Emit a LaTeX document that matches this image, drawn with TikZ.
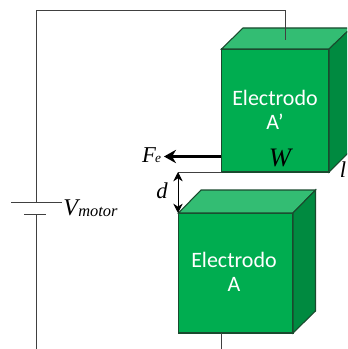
\documentclass[tikz,border=0pt]{standalone}
\usepackage{fontspec}
\usetikzlibrary{arrows.meta}
\setmainfont{Carlito}
\newfontfamily\mathlike{Liberation Serif}
\definecolor{gfront}{HTML}{00AD50}
\definecolor{gtop}{HTML}{33BD73}
\definecolor{gside}{HTML}{008A40}
\definecolor{gedge}{HTML}{1A4A2E}
\tikzset{
 wire/.style={draw=black!75,line width=0.7pt},
 front/.style={fill=gfront,draw=gedge,line width=0.8pt},
 topf/.style={fill=gtop,draw=gedge,line width=0.8pt},
 sidef/.style={fill=gside,draw=gedge,line width=0.8pt},
 lbl/.style={text=white,font=\fontsize{16.5}{18}\selectfont,align=center,inner sep=0pt},
 sym/.style={font=\mathlike\itshape\fontsize{17}{18}\selectfont,inner sep=0pt},
 sub/.style={font=\mathlike\itshape\fontsize{10}{12}\selectfont,inner sep=0pt}
}
\begin{document}
\begin{tikzpicture}[x=0.75pt,y=-0.75pt]
\useasboundingbox (0,0) rectangle (347,349);
\clip (0,0) rectangle (347,349);
\coordinate (tl) at (36,10);
\coordinate (tr) at (285,10);
\coordinate (tdot) at (285,40);
\coordinate (p1) at (36,202);
\coordinate (p2) at (36,214);
\coordinate (bl) at (36,349);
\coordinate (p1a) at (11,202);
\coordinate (p1b) at (62,202);
\coordinate (p2a) at (24,214);
\coordinate (p2b) at (46,214);
\coordinate (bw) at (221.6,349);
% upper electrode
\filldraw[front] (221.5,49) rectangle (329,172);
\filldraw[topf] (221.5,49) -- (243,28) -- (351,28) -- (329,49) -- cycle;
\filldraw[sidef] (329,49) -- (351,28) -- (351,150) -- (329,172) -- cycle;
\coordinate (ufb) at (221.5,172);
\node[lbl] (ea) at (275,110) {Electrodo\\A'};
\node[sym,font=\mathlike\itshape\fontsize{20}{20}\selectfont] (w) at (280,158) {W};
\node[sym] (l) at (343,170) {l};
% lower electrode
\filldraw[front] (178.5,213) rectangle (293,333);
\filldraw[topf] (178.5,213) -- (201,190) -- (315.5,190) -- (293,213) -- cycle;
\filldraw[sidef] (293,213) -- (315.5,190) -- (315.5,311) -- (293,333) -- cycle;
\node[lbl] (eb) at (234,272) {Electrodo\\A};
\coordinate (lbt) at (221.6,333);
% wires
\draw[wire] (tdot) -- (tr) -- (tl) -- (p1);
\draw[wire] (p1a) -- (p1b);
\draw[wire] (p2a) -- (p2b);
\draw[wire] (p2) -- (bl);
\draw[wire] (lbt) -- (bw);
% gap
\coordinate (dt) at (178,172);
\coordinate (db) at (178,213);
\draw[wire] (dt) -- (ufb);
\draw[black,line width=0.7pt,{Stealth[length=7pt,width=7pt]}-{Stealth[length=7pt,width=7pt]}] (dt) -- (db);
\node[sym] (d) at (162,191) {d};
% force
\coordinate (fs) at (221,156.5);
\coordinate (fe) at (164,156.5);
\draw[black,line width=2.6pt,-{Stealth[length=9pt,width=10pt]}] (fs) -- (fe);
\node[sym] (f) at (149,155) {F};
\node[sub] (fsub) at (158,159) {e};
\node[sym,anchor=west,font=\mathlike\itshape\fontsize{18}{18}\selectfont] (v) at (63,208) {V};
\node[sub,anchor=west,font=\mathlike\itshape\fontsize{12.3}{14}\selectfont] (vm) at (78,212) {motor};
\end{tikzpicture}
\end{document}
